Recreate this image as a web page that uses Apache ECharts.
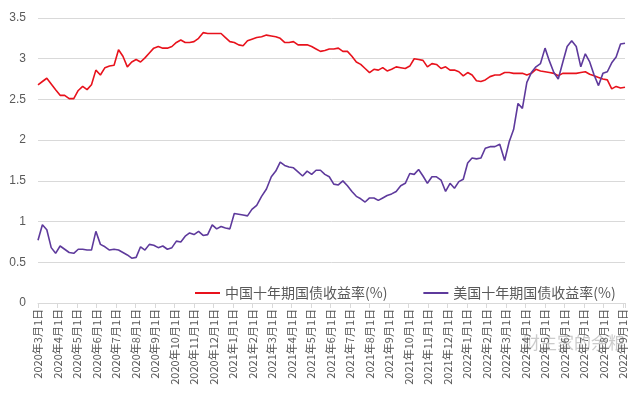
<!DOCTYPE html>
<html>
<head>
    <meta charset="utf-8">
    <title>中美十年期国债收益率</title>
    <script src="https://cdn.jsdelivr.net/npm/echarts@6/dist/echarts.min.js"></script>
    <style>
        html, body { margin: 0; padding: 0; background: #fff; }
        #main { width: 640px; height: 397px; }
    </style>
</head>
<body>
<div id="main"></div>
<script>
    // weekly observations, first one on 2020-03-01
    var startDate = '2020-03-01';

    var cnYield = [
        2.68, 2.72, 2.76, 2.69, 2.62, 2.55, 2.55, 2.51, 2.51, 2.61,
        2.66, 2.62, 2.68, 2.86, 2.80, 2.89, 2.91, 2.92, 3.11, 3.03,
        2.90, 2.96, 2.99, 2.96, 3.01, 3.07, 3.13, 3.15, 3.13, 3.13,
        3.15, 3.20, 3.23, 3.20, 3.20, 3.21, 3.25, 3.32, 3.31, 3.31,
        3.31, 3.31, 3.26, 3.21, 3.20, 3.17, 3.16, 3.22, 3.24, 3.26,
        3.27, 3.29, 3.28, 3.27, 3.25, 3.20, 3.20, 3.21, 3.17, 3.17,
        3.17, 3.15, 3.12, 3.09, 3.10, 3.12, 3.12, 3.13, 3.09, 3.09,
        3.03, 2.96, 2.93, 2.88, 2.83, 2.87, 2.86, 2.89, 2.85, 2.87,
        2.90, 2.89, 2.88, 2.91, 3.00, 2.99, 2.98, 2.90, 2.94, 2.93,
        2.88, 2.90, 2.86, 2.86, 2.84, 2.79, 2.83, 2.80, 2.73, 2.72,
        2.74, 2.78, 2.80, 2.80, 2.83, 2.83, 2.82, 2.82, 2.82, 2.80,
        2.82, 2.87, 2.85, 2.84, 2.83, 2.82, 2.79, 2.82, 2.82, 2.82,
        2.82, 2.83, 2.84, 2.81, 2.79, 2.77, 2.75, 2.74, 2.63, 2.66,
        2.64, 2.65
    ];

    var usYield = [
        0.77, 0.96, 0.90, 0.68, 0.61, 0.70, 0.66, 0.62, 0.61, 0.66,
        0.66, 0.65, 0.65, 0.88, 0.72, 0.69, 0.65, 0.66, 0.65, 0.62,
        0.59, 0.55, 0.56, 0.69, 0.65, 0.72, 0.71, 0.68, 0.70, 0.66,
        0.68, 0.76, 0.75, 0.82, 0.86, 0.84, 0.88, 0.83, 0.84, 0.96,
        0.91, 0.94, 0.92, 0.91, 1.10, 1.09, 1.08, 1.07, 1.15, 1.20,
        1.31, 1.40, 1.55, 1.62, 1.73, 1.69, 1.67, 1.66, 1.61, 1.56,
        1.62, 1.58, 1.63, 1.63, 1.58, 1.55, 1.46, 1.45, 1.50, 1.44,
        1.37, 1.31, 1.28, 1.24, 1.29, 1.29, 1.26, 1.29, 1.32, 1.34,
        1.37, 1.44, 1.47, 1.59, 1.58, 1.64, 1.56, 1.47, 1.55, 1.55,
        1.51, 1.37, 1.47, 1.41, 1.49, 1.52, 1.72, 1.78, 1.77, 1.78,
        1.90, 1.92, 1.92, 1.95, 1.75, 1.98, 2.13, 2.45, 2.39, 2.71,
        2.83, 2.90, 2.94, 3.13, 2.97, 2.83, 2.75, 2.95, 3.15, 3.22,
        3.15, 2.90, 3.06, 2.96, 2.80, 2.67, 2.82, 2.84, 2.95, 3.02,
        3.18, 3.19
    ];

    var seriesNames = ['中国十年期国债收益率(%)', '美国十年期国债收益率(%)'];
    var seriesColors = ['#e8121c', '#5e3a9c'];

    // x axis works in "months since 2020-03-01" so every month gets the same width
    var baseYear = 2020, baseMonth = 3;

    function monthIndex(d) {
        var y = d.getUTCFullYear(), m = d.getUTCMonth() + 1, day = d.getUTCDate();
        var dim = new Date(Date.UTC(y, m, 0)).getUTCDate();
        return (y - baseYear) * 12 + (m - baseMonth) + (day - 1) / dim;
    }

    function monthLabel(idx) {
        var total = baseMonth - 1 + idx;
        var y = baseYear + Math.floor(total / 12);
        var m = total % 12 + 1;
        return y + '年' + m + '月1日';
    }

    var t0 = Date.parse(startDate + 'T00:00:00Z');
    var xs = [];
    for (var i = 0; i < cnYield.length; i++) {
        xs.push(monthIndex(new Date(t0 + i * 7 * 86400000)));
    }

    function pairs(vals) {
        return vals.map(function (v, i) { return [xs[i], v]; });
    }

    var myChart = echarts.init(document.getElementById('main'));

    var option = {
        animation: false,
        backgroundColor: '#fff',
        grid: { left: 38, right: 15, top: 18, bottom: 94 },
        legend: {
            left: 190,
            top: 281,
            itemWidth: 25,
            itemHeight: 2,
            itemGap: 36,
            icon: 'rect',
            textStyle: { color: '#595959', fontSize: 14, fontFamily: 'Noto Sans CJK SC' },
            data: seriesNames
        },
        xAxis: {
            type: 'value',
            min: 0,
            max: xs[xs.length - 1],
            interval: 1,
            axisLine: { lineStyle: { color: '#d9d9d9' } },
            axisTick: { show: true, length: 5, lineStyle: { color: '#d9d9d9' } },
            splitLine: { show: false },
            axisLabel: {
                rotate: 90,
                margin: 6,
                color: '#595959',
                fontSize: 11,
                fontFamily: 'Noto Sans CJK SC',
                formatter: function (v) {
                    if (Math.abs(v - Math.round(v)) > 0.01) return '';
                    return monthLabel(Math.round(v));
                }
            }
        },
        yAxis: {
            type: 'value',
            min: 0,
            max: 3.5,
            interval: 0.5,
            axisLine: { show: false },
            axisTick: { show: false },
            splitLine: { lineStyle: { color: '#d9d9d9' } },
            axisLabel: {
                color: '#595959',
                fontSize: 12,
                margin: 12,
                fontFamily: 'Liberation Sans'
            }
        },
        series: [{
            name: seriesNames[0],
            type: 'line',
            showSymbol: false,
            color: seriesColors[0],
            lineStyle: { width: 1.6 },
            data: pairs(cnYield)
        }, {
            name: seriesNames[1],
            type: 'line',
            showSymbol: false,
            color: seriesColors[1],
            lineStyle: { width: 1.6 },
            data: pairs(usYield)
        }],
        graphic: [{
            type: 'text',
            left: 522,
            top: 333,
            style: {
                text: '财主家的余粮',
                fontSize: 17,
                fontFamily: 'Noto Sans CJK SC',
                fill: 'rgba(160,160,160,0.55)',
                stroke: 'rgba(255,255,255,0.8)',
                lineWidth: 2
            }
        }]
    };

    myChart.setOption(option);
</script>
</body>
</html>
